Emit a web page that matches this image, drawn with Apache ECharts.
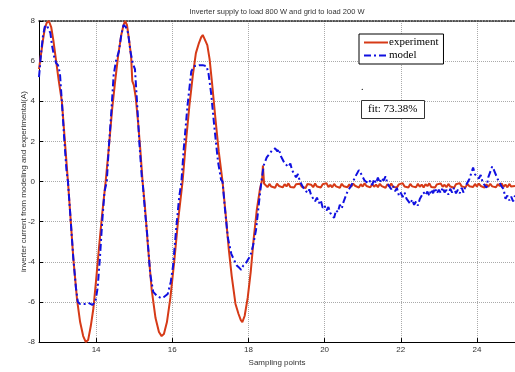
<!DOCTYPE html>
<html>
<head>
<meta charset="utf-8">
<script src="https://cdn.jsdelivr.net/npm/echarts@6/dist/echarts.min.js"></script>
<style>
  html, body { margin: 0; padding: 0; background: #fff; }
</style>
</head>
<body>
<div id="main" style="width: 515px;height:372px;"></div>
<script>
// tick labels
var xTicks = [14, 16, 18, 20, 22, 24];
var yTicks = [-8, -6, -4, -2, 0, 2, 4, 6, 8];

// experiment: the three swings, then the flat noisy part after ~18.4
var experimentSwing = [
  [12.5, 5.6], [12.55, 6.3], [12.6, 7.0], [12.65, 7.6], [12.7, 7.9], [12.76, 8.0], [12.82, 7.7],
  [12.88, 7.0], [12.95, 6.0], [13.02, 5.0], [13.1, 4.0], [13.18, 2.0], [13.26, 0], [13.32, -1.6],
  [13.4, -3.8], [13.5, -5.9], [13.58, -7.0], [13.66, -7.7], [13.73, -8.0], [13.79, -7.9],
  [13.86, -7.2], [13.93, -6.3], [14.0, -4.9], [14.08, -3.2], [14.16, -1.6], [14.25, 0],
  [14.33, 1.6], [14.42, 3.6], [14.5, 5.0], [14.58, 6.3], [14.66, 7.3], [14.72, 7.8], [14.76, 8.0],
  [14.81, 7.8], [14.87, 7.0], [14.92, 6.2], [14.95, 5.0], [14.99, 4.8], [15.04, 4.2], [15.1, 3.0],
  [15.16, 1.6], [15.22, 0], [15.28, -1.2], [15.36, -3.2], [15.46, -5.4], [15.56, -6.8],
  [15.65, -7.5], [15.72, -7.7], [15.78, -7.6], [15.86, -7.0], [15.95, -5.8], [16.05, -4.0],
  [16.15, -2.0], [16.27, 0], [16.35, 1.8], [16.45, 3.8], [16.54, 5.3], [16.62, 6.4], [16.7, 6.9],
  [16.76, 7.2], [16.8, 7.3], [16.85, 7.1], [16.92, 6.8], [16.98, 6.1], [17.05, 4.8], [17.14, 3.0],
  [17.22, 1.5], [17.32, 0], [17.4, -1.6], [17.48, -3.3], [17.56, -4.7], [17.66, -6.1],
  [17.74, -6.6], [17.8, -6.9], [17.84, -7.0], [17.9, -6.7], [17.98, -5.8], [18.06, -4.5],
  [18.14, -2.8], [18.22, -1.4], [18.3, -0.4], [18.36, 0.1], [18.38, 0.8], [18.41, -0.1]
];
var experimentFlat = [
  [18.45, -0.15], [18.5, -0.28], [18.55, -0.12], [18.6, -0.25], [18.65, -0.18], [18.7, -0.31],
  [18.75, -0.1], [18.8, -0.22], [18.85, -0.17], [18.9, -0.29], [18.95, -0.13], [19.0, -0.24],
  [19.05, -0.09], [19.1, -0.27], [19.15, -0.19], [19.2, -0.3], [19.25, -0.14], [19.3, -0.23],
  [19.35, -0.11], [19.4, -0.26], [19.45, -0.2], [19.5, -0.32], [19.55, -0.12], [19.6, -0.21],
  [19.65, -0.16], [19.7, -0.28], [19.75, -0.1], [19.8, -0.25], [19.85, -0.18], [19.9, -0.3],
  [19.95, -0.13], [20.0, -0.22], [20.05, -0.08], [20.1, -0.27], [20.15, -0.17], [20.2, -0.29],
  [20.25, -0.12], [20.3, -0.24], [20.35, -0.15], [20.4, -0.31], [20.45, -0.11], [20.5, -0.23],
  [20.55, -0.18], [20.6, -0.28], [20.65, -0.14], [20.7, -0.26], [20.75, -0.1], [20.8, -0.21],
  [20.85, -0.16], [20.9, -0.3], [20.95, -0.13], [21.0, -0.25], [21.05, -0.09], [21.1, -0.22],
  [21.15, -0.19], [21.2, -0.29], [21.25, -0.12], [21.3, -0.26], [21.35, -0.15], [21.4, -0.28],
  [21.45, -0.11], [21.5, -0.23], [21.55, -0.17], [21.6, -0.31], [21.65, -0.13], [21.7, -0.24],
  [21.75, -0.1], [21.8, -0.27], [21.85, -0.18], [21.9, -0.29], [21.95, -0.14], [22.0, -0.22],
  [22.05, -0.08], [22.1, -0.25], [22.15, -0.16], [22.2, -0.3], [22.25, -0.12], [22.3, -0.24],
  [22.35, -0.17], [22.4, -0.28], [22.45, -0.11], [22.5, -0.26], [22.55, -0.15], [22.6, -0.29],
  [22.65, -0.13], [22.7, -0.23], [22.75, -0.09], [22.8, -0.27], [22.85, -0.18], [22.9, -0.3],
  [22.95, -0.14], [23.0, -0.21], [23.05, -0.1], [23.1, -0.26], [23.15, -0.16], [23.2, -0.28],
  [23.25, -0.12], [23.3, -0.25], [23.35, -0.17], [23.4, -0.31], [23.45, -0.13], [23.5, -0.22],
  [23.55, -0.08], [23.6, -0.24], [23.65, -0.15], [23.7, -0.29], [23.75, -0.11], [23.8, -0.23],
  [23.85, -0.18], [23.9, -0.27], [23.95, -0.12], [24.0, -0.25], [24.05, -0.1], [24.1, -0.22],
  [24.15, -0.16], [24.2, -0.3], [24.25, -0.14], [24.3, -0.26], [24.35, -0.11], [24.4, -0.24],
  [24.45, -0.17], [24.5, -0.28], [24.55, -0.13], [24.6, -0.23], [24.65, -0.09], [24.7, -0.27],
  [24.75, -0.15], [24.8, -0.29], [24.85, -0.12], [24.9, -0.25], [24.95, -0.18], [25.0, -0.22]
];

// model: swings with flattened peaks, then the slow noisy tail
var modelSwing = [
  [12.5, 5.2], [12.55, 6.3], [12.6, 7.2], [12.65, 7.7], [12.7, 7.8], [12.75, 7.6], [12.8, 7.4],
  [12.84, 6.8], [12.9, 6.2], [12.95, 5.9], [13.0, 5.8], [13.05, 5.4], [13.1, 4.0], [13.16, 2.2],
  [13.22, 0.6], [13.26, 0], [13.32, -1.6], [13.4, -3.8], [13.47, -5.3], [13.52, -6.0],
  [13.58, -6.1], [13.7, -6.1], [13.8, -6.05], [13.9, -6.15], [13.98, -6.0], [14.04, -5.3],
  [14.1, -3.8], [14.16, -2.0], [14.22, -0.5], [14.28, 0], [14.33, 1.6], [14.4, 3.5], [14.46, 5.3],
  [14.52, 6.0], [14.6, 6.5], [14.66, 7.3], [14.72, 7.8], [14.78, 7.7], [14.84, 7.4], [14.9, 6.5],
  [14.96, 5.9], [15.02, 5.6], [15.08, 3.8], [15.14, 1.8], [15.2, 0.2], [15.22, 0], [15.28, -1.4],
  [15.34, -2.6], [15.42, -4.6], [15.5, -5.5], [15.6, -5.7], [15.7, -5.8], [15.78, -5.75],
  [15.88, -5.6], [15.96, -5.0], [16.02, -4.2], [16.1, -2.4], [16.18, -0.8], [16.24, 0],
  [16.3, 1.6], [16.4, 3.8], [16.5, 5.5], [16.58, 5.75], [16.7, 5.8], [16.8, 5.8], [16.9, 5.75],
  [16.95, 5.4], [17.02, 4.4], [17.1, 2.8], [17.2, 1.0], [17.28, 0.1], [17.32, 0], [17.38, -1.3],
  [17.46, -2.8], [17.55, -3.6], [17.62, -3.9], [17.7, -4.2], [17.76, -4.3], [17.81, -4.4],
  [17.86, -4.2], [17.92, -4.1], [17.97, -4.1], [18.05, -3.7], [18.12, -3.2], [18.2, -2.4],
  [18.28, -1.0], [18.34, 0], [18.4, 0.8], [18.48, 1.2], [18.56, 1.4], [18.62, 1.55], [18.7, 1.65],
  [18.76, 1.5]
];
var modelTail = [
  [18.8, 1.62], [18.85, 1.27], [18.9, 1.35], [18.95, 0.91], [19.0, 1.0], [19.05, 0.73],
  [19.1, 0.9], [19.15, 0.55], [19.2, 0.56], [19.25, 0.21], [19.3, 0.37], [19.35, 0.02],
  [19.4, 0.1], [19.45, -0.34], [19.5, -0.3], [19.55, -0.57], [19.6, -0.39], [19.65, -0.7],
  [19.7, -0.67], [19.75, -0.99], [19.8, -0.8], [19.85, -1.08], [19.9, -0.93], [19.95, -1.31],
  [20.0, -1.2], [20.05, -1.45], [20.1, -1.27], [20.15, -1.57], [20.2, -1.52], [20.25, -1.81],
  [20.3, -1.43], [20.35, -1.53], [20.4, -1.15], [20.45, -1.34], [20.5, -1.0], [20.55, -0.95],
  [20.6, -0.5], [20.65, -0.53], [20.7, -0.2], [20.75, -0.22], [20.8, 0.22], [20.85, 0.17],
  [20.9, 0.57], [20.95, 0.41], [21.0, 0.45], [21.05, 0.05], [21.1, 0.13], [21.15, -0.1],
  [21.2, 0.05], [21.25, -0.18], [21.3, 0.12], [21.35, -0.08], [21.4, 0.2], [21.45, -0.06],
  [21.5, 0.17], [21.55, 0.05], [21.6, 0.26], [21.65, -0.1], [21.7, -0.07], [21.75, -0.38],
  [21.8, -0.21], [21.85, -0.48], [21.9, -0.32], [21.95, -0.69], [22.0, -0.55], [22.05, -0.77],
  [22.1, -0.55], [22.15, -0.85], [22.2, -0.8], [22.25, -1.11], [22.3, -0.9], [22.35, -1.16],
  [22.4, -1.0], [22.45, -1.19], [22.5, -0.87], [22.55, -0.92], [22.6, -0.54], [22.65, -0.68],
  [22.7, -0.5], [22.75, -0.71], [22.8, -0.4], [22.85, -0.58], [22.9, -0.32], [22.95, -0.59],
  [23.0, -0.41], [23.05, -0.57], [23.1, -0.3], [23.15, -0.54], [23.2, -0.42], [23.25, -0.65],
  [23.3, -0.36], [23.35, -0.55], [23.4, -0.31], [23.45, -0.59], [23.5, -0.41], [23.55, -0.58],
  [23.6, -0.31], [23.65, -0.55], [23.7, -0.22], [23.75, -0.31], [23.8, 0.12], [23.85, 0.17],
  [23.9, 0.7], [23.95, 0.36], [24.0, 0.43], [24.05, 0.15], [24.1, 0.33], [24.15, -0.05],
  [24.2, -0.07], [24.25, -0.31], [24.3, 0.22], [24.35, 0.27], [24.4, 0.75], [24.45, 0.56],
  [24.5, 0.5], [24.55, 0.1], [24.6, 0.18], [24.65, -0.25], [24.7, -0.37], [24.75, -0.86],
  [24.8, -0.7], [24.85, -0.94], [24.9, -0.75], [24.95, -0.99], [25.0, -0.7]
];

var myChart = echarts.init(document.getElementById("main"));

var labelFont = { fontFamily: "Liberation Sans", fontSize: 8, color: "#333" };

var option = {
  backgroundColor: "#fff",
  animation: false,
  grid: {
    left: 39,
    right: 0,
    top: 21,
    bottom: 22,
    show: false
  },
  legend: {
    orient: "vertical",
    left: 359,
    top: 34,
    padding: [3, 5, 3, 4],
    itemGap: 2,
    itemWidth: 24,
    itemHeight: 8,
    itemStyle: { opacity: 0 },
    backgroundColor: "#fff",
    borderColor: "#000",
    borderWidth: 1,
    borderRadius: 0,
    selectedMode: false,
    textStyle: { fontFamily: "Liberation Serif", fontSize: 11, color: "#000", padding: [0, 0, 0, -4] },
    data: ["experiment", "model"]
  },
  title: {
    text: "fit: 73.38%",
    left: 361,
    top: 100,
    padding: [4, 7, 4, 7],
    borderColor: "#333",
    borderWidth: 1,
    backgroundColor: "#fff",
    textStyle: { fontFamily: "Liberation Serif", fontSize: 11, fontWeight: "normal", color: "#000" }
  },
  graphic: [
    {
      type: "text",
      x: 277,
      y: 12,
      style: {
        text: "Inverter supply to load 800 W and grid to load 200 W",
        fontFamily: "Liberation Sans",
        fontSize: 7.5,
        fill: "#333",
        align: "center",
        verticalAlign: "middle"
      }
    },
    {
      type: "text",
      x: 361,
      y: 82,
      style: { text: ".", fontFamily: "Liberation Serif", fontSize: 10, fill: "#000" }
    }
  ],
  xAxis: [
    {
      type: "value",
      min: 12.5,
      max: 25,
      splitNumber: 6,
      name: "Sampling points",
      nameLocation: "middle",
      nameGap: 12,
      nameTextStyle: labelFont,
      axisLine: { onZero: false, lineStyle: { color: "#000", width: 1 } },
      axisTick: { inside: true, length: 4, lineStyle: { color: "#000" }, customValues: xTicks },
      axisLabel: Object.assign({ margin: 4, customValues: xTicks }, labelFont),
      splitLine: { show: true, lineStyle: { color: "#aaa", type: "dotted", width: 1 } }
    },
    {
      type: "value",
      position: "top",
      min: 12.5,
      max: 25,
      axisLine: { show: true, onZero: false, lineStyle: { color: "#222", type: "dotted", width: 1.5 } },
      axisTick: { show: false },
      axisLabel: { show: false },
      splitLine: { show: false }
    }
  ],
  yAxis: {
    type: "value",
    min: -8,
    max: 8,
    interval: 2,
    name: "inverter current from modeling and experimental(A)",
    nameLocation: "middle",
    nameGap: 11,
    nameMoveOverlap: false,
    nameTextStyle: labelFont,
    axisLine: { show: true, onZero: false, lineStyle: { color: "#000", width: 1 } },
    axisTick: { show: true, inside: true, length: 4, lineStyle: { color: "#000" } },
    axisLabel: Object.assign({ margin: 4, customValues: yTicks }, labelFont),
    splitLine: { show: true, lineStyle: { color: "#aaa", type: "dotted", width: 1 } }
  },
  series: [
    {
      name: "experiment",
      type: "line",
      showSymbol: false,
      symbol: "none",
      data: experimentSwing.concat(experimentFlat),
      lineStyle: { color: "#d63a17", width: 2 },
      itemStyle: { color: "#d63a17" }
    },
    {
      name: "model",
      type: "line",
      showSymbol: false,
      symbol: "none",
      data: modelSwing.concat(modelTail),
      lineStyle: { color: "#1010e0", width: 2, type: [7, 3, 2, 3] },
      itemStyle: { color: "#1010e0" }
    }
  ]
};

myChart.setOption(option);
</script>
</body>
</html>
